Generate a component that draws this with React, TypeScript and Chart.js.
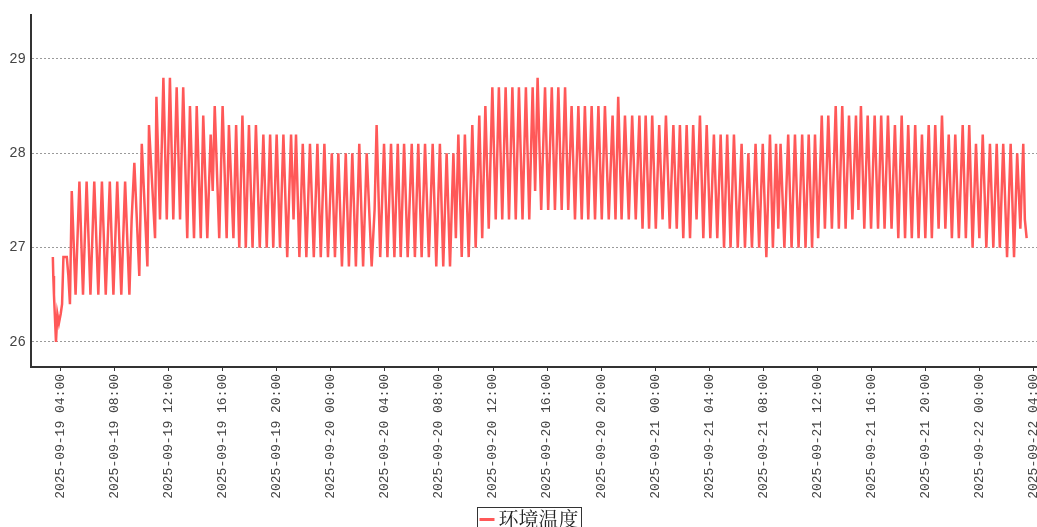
import React, { useEffect, useRef } from 'react';
import { Chart, registerables } from 'chart.js';

Chart.register(...registerables);

const seriesLabel = '环境温度';

// x tick positions: minutes since 2025-09-19 00:00
const tickMinutes = [240, 480, 720, 960, 1200, 1440, 1680, 1920, 2160, 2400, 2640, 2880, 3120, 3360, 3600, 3840, 4080, 4320, 4560];
const tickLabels = [
  '2025-09-19 04:00', '2025-09-19 08:00', '2025-09-19 12:00', '2025-09-19 16:00', '2025-09-19 20:00',
  '2025-09-20 00:00', '2025-09-20 04:00', '2025-09-20 08:00', '2025-09-20 12:00', '2025-09-20 16:00', '2025-09-20 20:00',
  '2025-09-21 00:00', '2025-09-21 04:00', '2025-09-21 08:00', '2025-09-21 12:00', '2025-09-21 16:00', '2025-09-21 20:00',
  '2025-09-22 00:00', '2025-09-22 04:00',
];
const yTicks = [26, 27, 28, 29];

// sample times: minutes since 2025-09-19 00:00
const sampleMinutes = [
  205, 207, 210, 219, 225, 232, 240, 246, 252, 267, 274, 281, 289,
  306, 323, 339, 355, 372, 389, 407, 423, 440, 458, 474, 491, 509, 526, 545, 555, 567, 589, 600, 625, 632, 659, 665, 681, 696, 711, 725, 740, 755, 770, 784, 802, 814, 832, 844, 862, 873, 891, 906, 915, 924, 944, 959, 977, 987, 1007, 1019,
  1033, 1047, 1062, 1076, 1092, 1107, 1124, 1140, 1155, 1170, 1184, 1199, 1214, 1229, 1246, 1263, 1274, 1285, 1300, 1315, 1331, 1347, 1364, 1380, 1395, 1411, 1427, 1444, 1458, 1473, 1489, 1506, 1520, 1535, 1551, 1566, 1583, 1599, 1621, 1634, 1643,
  1659, 1676, 1691, 1707, 1722, 1737, 1750, 1765, 1781, 1799, 1813, 1828, 1843, 1858, 1875, 1892, 1908, 1924, 1939, 1954, 1969, 1984, 1995, 2006, 2021, 2035, 2052, 2068, 2083, 2099, 2112, 2126, 2141, 2157, 2172, 2186, 2201, 2216, 2231, 2246, 2261, 2275, 2291, 2306, 2321, 2336, 2347, 2358,
  2374, 2391, 2405, 2421, 2435, 2450, 2465, 2480, 2494, 2509, 2524, 2539, 2554, 2568, 2583, 2598, 2613, 2628, 2643, 2657, 2674, 2691, 2704, 2716, 2731, 2746, 2763, 2778, 2794, 2810, 2824, 2838, 2853, 2867, 2883, 2898, 2913, 2928, 2945, 2961, 2976, 2990, 3005, 3020, 3035, 3049, 3064, 3079, 3094, 3109, 3125, 3141, 3156, 3171, 3186, 3200, 3215, 3230, 3247, 3264, 3279, 3294, 3310, 3326, 3342, 3358, 3374, 3390, 3403, 3417, 3427, 3437, 3454, 3471, 3486, 3501, 3517, 3533, 3548, 3562, 3577, 3590,
  3604, 3620, 3634, 3649, 3665, 3682, 3696, 3711, 3726, 3741, 3756, 3772, 3783, 3794, 3809, 3824, 3839, 3855, 3870, 3884, 3899, 3914, 3930, 3945, 3960, 3975, 3990, 4004, 4020, 4035, 4050, 4065, 4080, 4095, 4109, 4124, 4139, 4154, 4169, 4184, 4198, 4213, 4229, 4246, 4260, 4275, 4290, 4305, 4320, 4335, 4351, 4367, 4382, 4397, 4411, 4426, 4443, 4459, 4474, 4488, 4502, 4515, 4522, 4530,
];

// ambient temperature readings (°C), same order as sampleMinutes
const temperature = [
  26.9, 26.7, 26.5, 26.0, 26.3, 26.2, 26.3, 26.4, 26.9, 26.9, 26.7, 26.4, 27.6,
  26.5, 27.7, 26.5, 27.7, 26.5, 27.7, 26.5, 27.7, 26.5, 27.7, 26.5, 27.7, 26.5, 27.7, 26.5, 27.3, 27.9, 26.7, 28.1, 26.8, 28.3, 27.1, 28.6, 27.3, 28.8, 27.3, 28.8, 27.3, 28.7, 27.3, 28.7, 27.1, 28.5, 27.1, 28.5, 27.1, 28.4, 27.1, 28.2, 27.6, 28.5, 27.1, 28.5, 27.1, 28.3, 27.1, 28.3,
  27.0, 28.4, 27.0, 28.3, 27.0, 28.3, 27.0, 28.2, 27.0, 28.2, 27.0, 28.2, 27.0, 28.2, 26.9, 28.2, 27.3, 28.2, 26.9, 28.1, 26.9, 28.1, 26.9, 28.1, 26.9, 28.1, 26.9, 28.0, 26.9, 28.0, 26.8, 28.0, 26.8, 28.0, 26.8, 28.1, 26.8, 28.0, 26.8, 27.4, 28.3,
  26.9, 28.1, 26.9, 28.1, 26.9, 28.1, 26.9, 28.1, 26.9, 28.1, 26.9, 28.1, 26.9, 28.1, 26.9, 28.1, 26.8, 28.1, 26.8, 28.0, 26.8, 28.0, 27.1, 28.2, 26.9, 28.2, 26.9, 28.3, 27.0, 28.4, 27.1, 28.5, 27.2, 28.7, 27.3, 28.7, 27.3, 28.7, 27.3, 28.7, 27.3, 28.7, 27.3, 28.7, 27.3, 28.7, 27.6, 28.8,
  27.4, 28.7, 27.4, 28.7, 27.4, 28.7, 27.4, 28.7, 27.4, 28.5, 27.3, 28.5, 27.3, 28.5, 27.3, 28.5, 27.3, 28.5, 27.3, 28.5, 27.3, 28.4, 27.3, 28.6, 27.3, 28.4, 27.3, 28.4, 27.3, 28.4, 27.2, 28.4, 27.2, 28.4, 27.2, 28.3, 27.3, 28.4, 27.2, 28.3, 27.2, 28.3, 27.1, 28.3, 27.1, 28.3, 27.3, 28.4, 27.1, 28.3, 27.1, 28.2, 27.1, 28.2, 27.0, 28.2, 27.0, 28.2, 27.0, 28.1, 27.0, 28.0, 27.0, 28.1, 27.0, 28.1, 26.9, 28.2, 27.0, 28.1, 27.2, 28.1, 27.0, 28.2, 27.0, 28.2, 27.0, 28.2, 27.0, 28.2, 27.0, 28.2,
  27.1, 28.4, 27.2, 28.4, 27.2, 28.5, 27.2, 28.5, 27.2, 28.4, 27.3, 28.4, 27.4, 28.5, 27.2, 28.4, 27.2, 28.4, 27.2, 28.4, 27.2, 28.4, 27.2, 28.3, 27.1, 28.4, 27.1, 28.3, 27.1, 28.3, 27.1, 28.2, 27.1, 28.3, 27.1, 28.3, 27.2, 28.4, 27.2, 28.2, 27.1, 28.2, 27.1, 28.3, 27.1, 28.3, 27.0, 28.1, 27.1, 28.2, 27.0, 28.1, 27.0, 28.1, 27.0, 28.1, 26.9, 28.1, 26.9, 28.0, 27.2, 28.1, 27.3, 27.1,
];

const LINE_COLOR = '#ff5858';
const AXIS_COLOR = '#333333';
const LABEL_COLOR = '#444444';
const LABEL_FONT = '"Liberation Mono", monospace';

const legendBoxPlugin = {
  id: 'legendBox',
  afterDraw(chart: any) {
    const ds = chart.data.datasets[0];
    const ctx = chart.ctx as CanvasRenderingContext2D;
    ctx.save();
    ctx.font = '20px "Noto Serif CJK SC", serif';
    const textW = ctx.measureText(ds.label).width;
    const markW = 15;
    const boxW = 2 + markW + 4 + textW + 3;
    const centerX = 529;
    const left = Math.round(centerX - boxW / 2) + 0.5;
    const top = 507.5;
    ctx.strokeStyle = '#333';
    ctx.lineWidth = 1;
    ctx.strokeRect(left, top, boxW, 26);
    const midY = 519.5;
    ctx.strokeStyle = ds.borderColor;
    ctx.lineWidth = 3;
    ctx.beginPath();
    ctx.moveTo(left + 2, midY);
    ctx.lineTo(left + 2 + markW, midY);
    ctx.stroke();
    ctx.fillStyle = '#222';
    ctx.textBaseline = 'middle';
    ctx.textAlign = 'left';
    ctx.fillText(ds.label, left + 2 + markW + 4, midY);
    ctx.restore();
  },
};

export default function App() {
  const canvasRef = useRef<HTMLCanvasElement | null>(null);

  useEffect(() => {
    document.body.style.margin = '0';
    const canvas = canvasRef.current;
    if (!canvas) return;
    const points = sampleMinutes.map((m, i) => ({ x: m, y: temperature[i] }));
    const chart = new Chart(canvas, {
      type: 'line',
      data: {
        datasets: [
          {
            label: seriesLabel,
            data: points,
            borderColor: LINE_COLOR,
            backgroundColor: LINE_COLOR,
            borderWidth: 2.5,
            pointRadius: 0,
            tension: 0,
            fill: false,
          },
        ],
      },
      options: {
        responsive: false,
        animation: false,
        devicePixelRatio: 1,
        parsing: false,
        normalized: true,
        layout: { padding: { top: 15, left: 0, right: 0, bottom: 0 } },
        plugins: {
          legend: { display: false },
          tooltip: { enabled: false },
        },
        scales: {
          x: {
            type: 'linear',
            min: 108,
            max: 4576,
            afterBuildTicks: (scale: any) => {
              scale.ticks = tickMinutes.map((v) => ({ value: v }));
            },
            afterFit: (scale: any) => {
              scale.height = 160;
              scale.paddingLeft = 0;
              scale.paddingRight = 0;
            },
            ticks: {
              autoSkip: false,
              minRotation: 90,
              maxRotation: 90,
              padding: 3,
              color: LABEL_COLOR,
              font: { family: LABEL_FONT, size: 13 },
              callback: (v: any) => {
                const i = tickMinutes.indexOf(Number(v));
                return i >= 0 ? tickLabels[i] : '';
              },
            },
            grid: {
              display: true,
              drawOnChartArea: false,
              drawTicks: true,
              tickLength: 4,
              color: AXIS_COLOR,
            },
            border: { display: true, color: AXIS_COLOR, width: 2 },
          },
          y: {
            type: 'linear',
            min: 25.735,
            max: 29.466,
            afterBuildTicks: (scale: any) => {
              scale.ticks = yTicks.map((v) => ({ value: v }));
            },
            afterFit: (scale: any) => {
              scale.width = 31;
              scale.paddingTop = 0;
              scale.paddingBottom = 0;
            },
            ticks: {
              padding: 5,
              color: LABEL_COLOR,
              font: { family: LABEL_FONT, size: 14 },
              callback: (v: any) => String(v),
            },
            grid: {
              display: true,
              drawTicks: false,
              color: '#9a9a9a',
              lineWidth: 1,
            },
            border: { display: true, color: AXIS_COLOR, width: 2, dash: [2, 2] },
          },
        },
      },
      plugins: [legendBoxPlugin],
    } as any);
    return () => chart.destroy();
  }, []);

  return (
    <div style={{ width: 1037, height: 527, background: '#fff' }}>
      <canvas ref={canvasRef} width={1037} height={527} style={{ display: 'block' }} />
    </div>
  );
}
